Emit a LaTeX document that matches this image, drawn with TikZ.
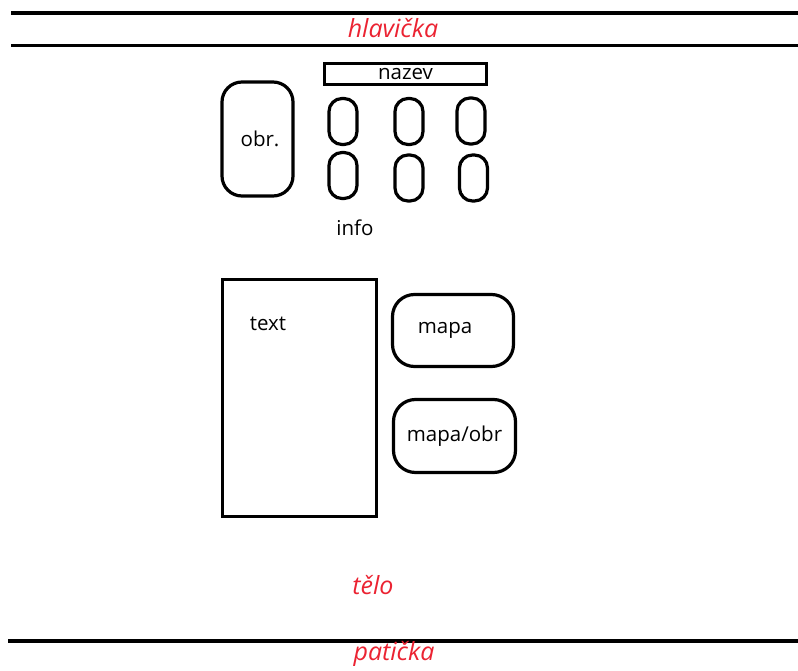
\documentclass[tikz,border=0pt]{standalone}
\usepackage{fontspec}
\setmainfont{Open Sans}
\definecolor{labelred}{RGB}{235,35,50}
\tikzset{
  box/.style={draw, line width=3.2pt, inner sep=0pt, font=\fontsize{20.5}{22}\selectfont},
  oval/.style={box, minimum width=28pt, minimum height=46pt, rounded corners=13pt},
  part/.style={text=labelred, font=\fontsize{25}{27}\selectfont\itshape},
  bar/.style={line width=3.8pt}
}
\begin{document}
\begin{tikzpicture}[x=1pt,y=-1pt]
  \useasboundingbox (0,0) rectangle (798,671);
  \coordinate (t1) at (11,13);
  \coordinate (t2) at (798,13);
  \coordinate (h1) at (11,45.5);
  \coordinate (h2) at (798,45.5);
  \coordinate (p1) at (8,641);
  \coordinate (p2) at (798,641);
  \draw [bar] (t1) -- (t2);
  \draw [bar] (h1) -- (h2);
  \draw [bar] (p1) -- (p2);
  \node [part] (hlav) at (393,28) {hlavička};
  \node [part] (telo) at (373,585) {tělo};
  \node [part] (pat) at (394,654) {patička};
  \node [box, rounded corners=20pt, minimum width=71pt, minimum height=114pt] (obr) at (257.5,139) {\kern5pt obr.};
  \node [box, minimum width=162pt, minimum height=21pt] (nazev) at (405.5,74) {nazev};
  \node [oval] (i11) at (343,121.5) {};
  \node [oval] (i12) at (409,121.5) {};
  \node [oval] (i13) at (471,121) {};
  \node [oval] (i21) at (343,175.5) {};
  \node [oval] (i22) at (409,178) {};
  \node [oval] (i23) at (473.5,178) {};
  \node [box, draw=none] (info) at (355,228) {info};
  \node [box, minimum width=154pt, minimum height=237pt] (text) at (299.5,398) {};
  \node [box, draw=none] (textlbl) at (268,324) {text};
  \node [box, rounded corners=22pt, minimum width=121pt, minimum height=72pt] (mapa) at (453,330.5) {mapa\kern16pt};
  \node [box, rounded corners=22pt, minimum width=122pt, minimum height=73pt] (mapaobr) at (454.5,436) {mapa/obr};
\end{tikzpicture}
\end{document}
